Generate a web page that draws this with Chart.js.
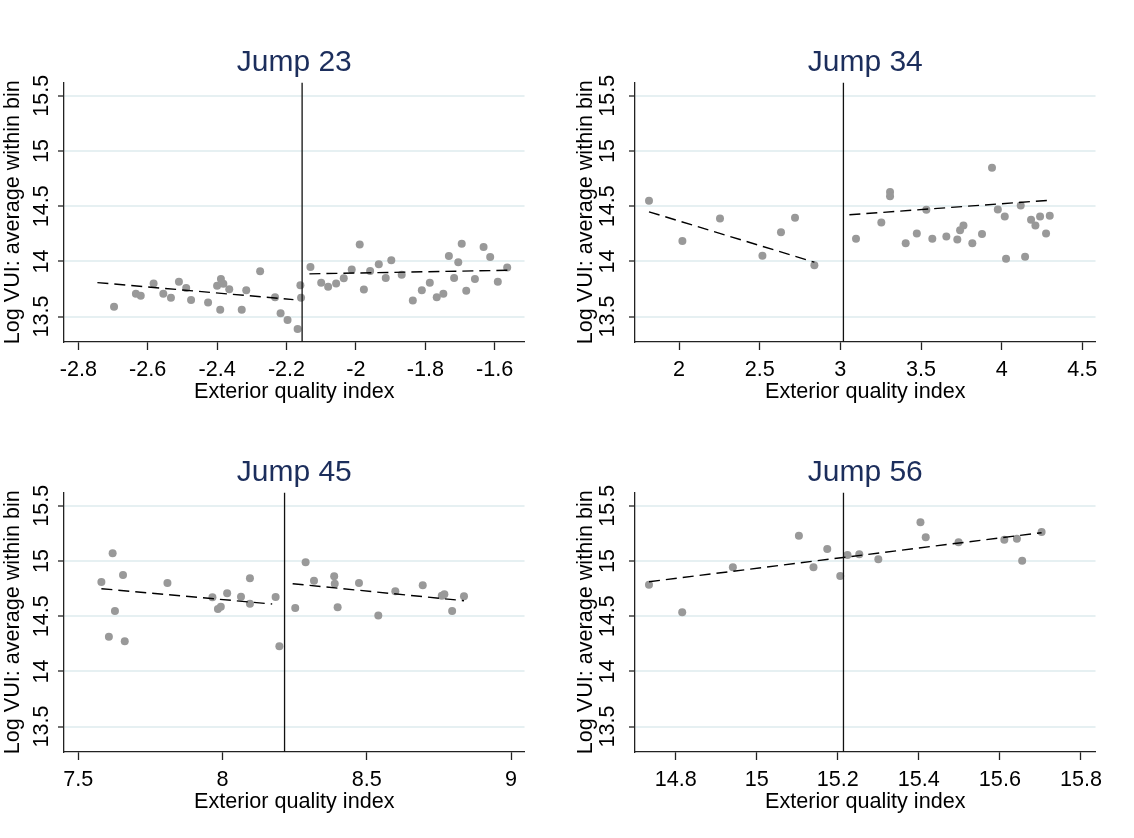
<!DOCTYPE html>
<html><head><meta charset="utf-8">
<script src="https://cdn.jsdelivr.net/npm/chart.js@4.4.0/dist/chart.umd.min.js"></script>
<style>
html,body{margin:0;padding:0;background:#fff;width:1134px;height:838px;overflow:hidden;}
canvas{position:absolute;}
</style></head><body>
<canvas id="c1" width="567" height="419" style="left:0px;top:0px"></canvas>
<canvas id="c2" width="561" height="419" style="left:573px;top:0px"></canvas>
<canvas id="c3" width="567" height="419" style="left:0px;top:410px"></canvas>
<canvas id="c4" width="561" height="419" style="left:573px;top:410px"></canvas>
<script>
// ---------- data ----------
const yTicks = [13.5, 14, 14.5, 15, 15.5];
const yMin = 13.27, yMax = 15.62;

const j23X = [-2.697,-2.634,-2.620,-2.583,-2.555,-2.533,-2.510,-2.489,-2.475,-2.426,-2.400,-2.391,-2.389,-2.382,-2.365,-2.329,-2.316,-2.276,-2.233,-2.217,-2.197,-2.168,-2.160,-2.158,-2.131,-2.100,-2.080,-2.057,-2.035,-2.012,-1.989,-1.977,-1.959,-1.934,-1.914,-1.898,-1.868,-1.836,-1.810,-1.787,-1.767,-1.748,-1.732,-1.717,-1.705,-1.695,-1.682,-1.657,-1.632,-1.613,-1.591,-1.564];
const j23Y = [13.59,13.706,13.688,13.80,13.706,13.67,13.815,13.76,13.65,13.627,13.78,13.563,13.84,13.797,13.748,13.563,13.739,13.911,13.676,13.531,13.47,13.388,13.785,13.67,13.95,13.806,13.77,13.80,13.848,13.926,14.153,13.745,13.914,13.975,13.85,14.011,13.878,13.645,13.739,13.806,13.676,13.706,14.048,13.85,13.993,14.159,13.733,13.84,14.13,14.04,13.815,13.944];
const j23FitLeftX = [-2.745, -2.180], j23FitLeftY = [13.808, 13.654];
const j23FitRightX = [-2.134, -1.555], j23FitRightY = [13.887, 13.92];
const j23Cut = -2.155;
const j23XTicks = [-2.8, -2.6, -2.4, -2.2, -2, -1.8, -1.6];

const j34X = [1.814,2.021,2.254,2.517,2.632,2.719,2.839,3.097,3.254,3.308,3.308,3.405,3.474,3.533,3.570,3.657,3.725,3.742,3.763,3.818,3.878,3.940,3.976,4.019,4.027,4.118,4.145,4.182,4.209,4.238,4.275,4.298];
const j34Y = [14.549,14.184,14.389,14.05,14.265,14.395,13.966,14.204,14.352,14.628,14.591,14.165,14.252,14.467,14.204,14.225,14.198,14.283,14.325,14.165,14.247,14.848,14.470,14.407,14.023,14.506,14.041,14.377,14.325,14.407,14.252,14.413];
const j34FitLeftX = [1.814, 2.839], j34FitLeftY = [14.449, 13.993];
const j34FitRightX = [3.056, 4.280], j34FitRightY = [14.422, 14.552];
const j34Cut = 3.019;
const j34XTicks = [2, 2.5, 3, 3.5, 4, 4.5];

const j45X = [7.580,7.606,7.619,7.627,7.655,7.661,7.809,7.965,7.984,7.994,8.016,8.064,8.095,8.095,8.184,8.197,8.252,8.288,8.317,8.387,8.389,8.399,8.473,8.540,8.599,8.694,8.760,8.769,8.796,8.837];
const j45Y = [14.81,14.314,15.069,14.547,14.873,14.273,14.80,14.671,14.565,14.586,14.707,14.676,14.843,14.613,14.674,14.228,14.574,14.988,14.821,14.861,14.794,14.58,14.80,14.505,14.725,14.78,14.686,14.698,14.547,14.68];
const j45FitLeftX = [7.580, 8.172], j45FitLeftY = [14.749, 14.61];
const j45FitRightX = [8.243, 8.837], j45FitRightY = [14.794, 14.64];
const j45Cut = 8.215;
const j45XTicks = [7.5, 8, 8.5, 9];

const j56X = [14.734,14.816,14.941,15.104,15.140,15.174,15.206,15.224,15.253,15.300,15.404,15.417,15.498,15.611,15.642,15.655,15.703];
const j56Y = [14.785,14.535,14.942,15.229,14.942,15.108,14.864,15.054,15.06,15.015,15.35,15.214,15.169,15.192,15.201,15.002,15.262];
const j56FitX = [14.734, 15.703], j56FitY = [14.812, 15.256];
const j56Cut = 15.214;
const j56XTicks = [14.8, 15, 15.2, 15.4, 15.6, 15.8];

// ---------- drawing ----------
const FAM = '"Liberation Sans", Arial, sans-serif';
const pairs = (xs, ys) => xs.map((x, i) => ({x: x, y: ys[i]}));

function makePanel(id, title, xs, ys, fits, cut, xMin, xMax, xTicks, yAxisW, yTickPad, rightPad) {
  const datasets = [{
    data: pairs(xs, ys), backgroundColor: '#999999', borderWidth: 0,
    pointRadius: 4, pointHoverRadius: 4, order: 3
  }];
  fits.forEach(f => datasets.push({
    data: pairs(f[0], f[1]), showLine: true, borderColor: '#000', borderWidth: 1.4,
    borderDash: [11, 6], pointRadius: 0, fill: false, order: 2
  }));
  datasets.push({
    data: [{x: cut, y: yMin}, {x: cut, y: yMax}], showLine: true, borderColor: '#111',
    borderWidth: 1.3, pointRadius: 0, fill: false, order: 1
  });
  new Chart(document.getElementById(id), {
    type: 'scatter',
    data: {datasets},
    options: {
      responsive: false, animation: false, devicePixelRatio: 1,
      layout: {padding: {left: 0, top: 0, right: rightPad, bottom: 0}},
      plugins: {
        legend: {display: false}, tooltip: {enabled: false},
        title: {display: true, text: title, color: '#1c2e5c', fullSize: false,
          font: {family: FAM, size: 30, weight: 'normal'}, padding: {top: 44.7, bottom: 1.8}}
      },
      scales: {
        x: {
          type: 'linear', min: xMin, max: xMax,
          afterBuildTicks: s => { s.ticks = xTicks.map(v => ({value: v})); },
          afterFit: s => { s.height = 77; },
          ticks: {callback: v => String(v), color: '#000', font: {family: FAM, size: 21.6}, padding: 7, maxRotation: 0, autoSkip: false},
          grid: {drawOnChartArea: false, drawTicks: true, tickLength: 8, tickColor: '#222', tickWidth: 1.3},
          border: {color: '#222', width: 1.3},
          title: {display: true, text: 'Exterior quality index', color: '#000', font: {family: FAM, size: 21.6}, padding: {top: 0, bottom: 14.4}}
        },
        y: {
          type: 'linear', min: yMin, max: yMax,
          afterBuildTicks: s => { s.ticks = yTicks.map(v => ({value: v})); },
          afterFit: s => { s.width = yAxisW; },
          ticks: {callback: v => String(v), color: '#000', font: {family: FAM, size: 21.6}, padding: yTickPad, minRotation: 90, maxRotation: 90, crossAlign: 'center'},
          grid: {color: '#e6f0f2', lineWidth: 2, drawTicks: true, tickLength: 6, tickColor: '#222', tickWidth: 1.3},
          border: {color: '#222', width: 1.3},
          title: {display: true, text: 'Log VUI: average within bin', color: '#000', font: {family: FAM, size: 21.6}, padding: {top: 0, bottom: 0}}
        }
      }
    }
  });
}

makePanel('c1', 'Jump 23', j23X, j23Y, [[j23FitLeftX, j23FitLeftY], [j23FitRightX, j23FitRightY]], j23Cut, -2.8412, -1.5141, j23XTicks, 64, -5.5, 42.5);
makePanel('c2', 'Jump 34', j34X, j34Y, [[j34FitLeftX, j34FitLeftY], [j34FitRightX, j34FitRightY]], j34Cut, 1.7272, 4.5815, j34XTicks, 62, -0.3, 38.5);
makePanel('c3', 'Jump 45', j45X, j45Y, [[j45FitLeftX, j45FitLeftY], [j45FitRightX, j45FitRightY]], j45Cut, 7.4504, 9.0468, j45XTicks, 64, -5.5, 42.5);
makePanel('c4', 'Jump 56', j56X, j56Y, [[j56FitX, j56FitY]], j56Cut, 14.6995, 15.836, j56XTicks, 62, -0.3, 38.5);
</script>
</body></html>
